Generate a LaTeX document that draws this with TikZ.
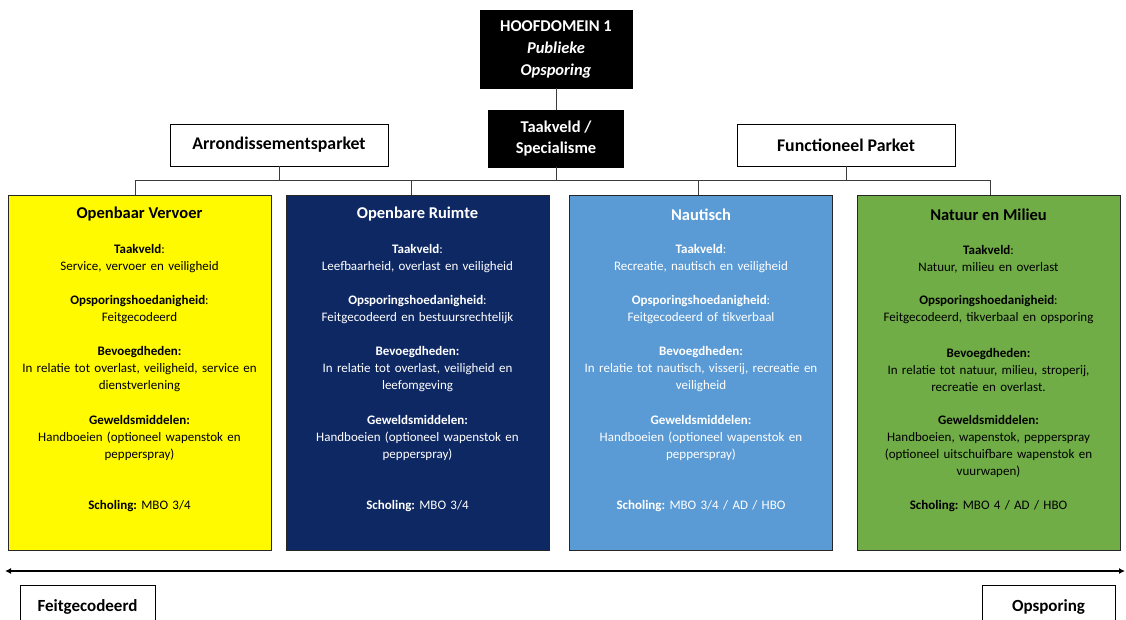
\documentclass[tikz,border=0pt]{standalone}
\usepackage{fontspec}
\setmainfont{Carlito}
\usetikzlibrary{arrows.meta}
\frenchspacing
\definecolor{cyellow}{RGB}{255,250,0}
\definecolor{cnavy}{RGB}{14,40,100}
\definecolor{cblue}{RGB}{91,155,213}
\definecolor{cgreen}{RGB}{112,173,71}
\definecolor{cline}{RGB}{60,60,60}
\tikzset{
  blackbox/.style={draw=black, fill=black, text=white, align=center, inner sep=0},
  whitebox/.style={draw=black, line width=0.9pt, fill=white, align=center, inner sep=0, font=\fontsize{17.8}{20}\selectfont\bfseries},
  colbox/.style={draw=black!85, line width=1pt, minimum width=263pt, minimum height=355pt, inner sep=0},
  coltitle/.style={font=\fontsize{16.5}{19}\selectfont\bfseries, inner sep=0},
  coltext/.style={text width=262pt, align=center, font=\fontsize{13}{17}\selectfont\frenchspacing, inner sep=0},
  conn/.style={draw=cline, line width=0.8pt},
}
\begin{document}
\begin{tikzpicture}[x=1pt,y=-1pt]
\useasboundingbox[fill=white] (0,0) rectangle (1126,619);

% top
\node[blackbox, minimum width=152pt, minimum height=78pt, font=\fontsize{16.5}{22}\selectfont\bfseries] (top) at (556,49)
  {HOOFDOMEIN 1\\ \itshape Publieke\\ \itshape Opsporing};
\node[blackbox, minimum width=135pt, minimum height=57pt, font=\fontsize{16.5}{21}\selectfont\bfseries] (tk) at (556,138.5)
  {Taakveld /\\ Specialisme};
\node[whitebox, minimum width=218pt, minimum height=42pt] (ar) at (279,145) {Arrondissementsparket};
\node[whitebox, minimum width=218pt, minimum height=42pt] (fp) at (846,145) {Functioneel Parket};

% columns
\node[colbox, fill=cyellow] (c1) at (139.5,372.5) {};
\node[colbox, fill=cnavy] (c2) at (417.5,372.5) {};
\node[colbox, fill=cblue] (c3) at (701,372.5) {};
\node[colbox, fill=cgreen] (c4) at (988.5,372.5) {};

% connectors
\coordinate (busL) at (135,180);
\coordinate (busR) at (990,180);
\coordinate (d2) at (411,180);
\coordinate (d3) at (698,180);
\draw[conn] (top) -- (tk);
\draw[conn] (busL) -- (busR);
\draw[conn] (tk.south) -- (tk.south |- busL);
\draw[conn] (ar.south) -- (ar.south |- busL);
\draw[conn] (fp.south) -- (fp.south |- busL);
\draw[conn] (busL) -- (busL |- c1.north);
\draw[conn] (d2) -- (d2 |- c2.north);
\draw[conn] (d3) -- (d3 |- c3.north);
\draw[conn] (busR) -- (busR |- c4.north);

% column 1
\begin{scope}[text=black]
\node[coltitle] (t1) at (139.5,214.5) {Openbaar Vervoer};
\node[coltext] (a1) at (139.5,259) {\textbf{Taakveld}:\\ Service, vervoer en veiligheid};
\node[coltext] (b1) at (139.5,309.5) {\textbf{Opsporingshoedanigheid}:\\ Feitgecodeerd};
\node[coltext] (e1) at (139.5,369.5) {\textbf{Bevoegdheden:}\\ In relatie tot overlast, veiligheid, service en\\ dienstverlening};
\node[coltext] (g1) at (139.5,438) {\textbf{Geweldsmiddelen:}\\ Handboeien (optioneel wapenstok en\\ pepperspray)};
\node[coltext] (s1) at (139.5,506.5) {\textbf{Scholing:} MBO 3/4};
\end{scope}

% column 2
\begin{scope}[text=white]
\node[coltitle] (t2) at (417.5,214.5) {Openbare Ruimte};
\node[coltext] (a2) at (417.5,259) {\textbf{Taakveld}:\\ Leefbaarheid, overlast en veiligheid};
\node[coltext] (b2) at (417.5,309.5) {\textbf{Opsporingshoedanigheid}:\\ Feitgecodeerd en bestuursrechtelijk};
\node[coltext] (e2) at (417.5,369.5) {\textbf{Bevoegdheden:}\\ In relatie tot overlast, veiligheid en\\ leefomgeving};
\node[coltext] (g2) at (417.5,438) {\textbf{Geweldsmiddelen:}\\ Handboeien (optioneel wapenstok en\\ pepperspray)};
\node[coltext] (s2) at (417.5,506.5) {\textbf{Scholing:} MBO 3/4};
\end{scope}

% column 3
\begin{scope}[text=white]
\node[coltitle] (t3) at (701,214.5) {Nautisch};
\node[coltext] (a3) at (701,259) {\textbf{Taakveld}:\\ Recreatie, nautisch en veiligheid};
\node[coltext] (b3) at (701,309.5) {\textbf{Opsporingshoedanigheid}:\\ Feitgecodeerd of tikverbaal};
\node[coltext] (e3) at (701,369.5) {\textbf{Bevoegdheden:}\\ In relatie tot nautisch, visserij, recreatie en\\ veiligheid};
\node[coltext] (g3) at (701,438) {\textbf{Geweldsmiddelen:}\\ Handboeien (optioneel wapenstok en\\ pepperspray)};
\node[coltext] (s3) at (701,506.5) {\textbf{Scholing:} MBO 3/4 / AD / HBO};
\end{scope}

% column 4
\begin{scope}[text=black]
\node[coltitle] (t4) at (988.5,214.5) {Natuur en Milieu};
\node[coltext] (a4) at (988.5,259) {\textbf{Taakveld}:\\ Natuur, milieu en overlast};
\node[coltext] (b4) at (988.5,309.5) {\textbf{Opsporingshoedanigheid}:\\ Feitgecodeerd, tikverbaal en opsporing};
\node[coltext] (e4) at (988.5,369.5) {\textbf{Bevoegdheden:}\\ In relatie tot natuur, milieu, stroperij,\\ recreatie en overlast.};
\node[coltext] (g4) at (988.5,446) {\textbf{Geweldsmiddelen:}\\ Handboeien, wapenstok, pepperspray\\ (optioneel uitschuifbare wapenstok en\\ vuurwapen)};
\node[coltext] (s4) at (988.5,506.5) {\textbf{Scholing:} MBO 4 / AD / HBO};
\end{scope}

% bottom scale
\coordinate (arL) at (5,571);
\coordinate (arR) at (1125,571);
\draw[line width=1.3pt, {Latex[length=6pt,width=6pt]}-{Latex[length=6pt,width=6pt]}] (arL) -- (arR);
\node[whitebox, minimum width=135pt, minimum height=44pt, font=\fontsize{17}{20}\selectfont\bfseries, anchor=north] (fg) at (87.5,585) {\raisebox{-4pt}{Feitgecodeerd}};
\node[whitebox, minimum width=133pt, minimum height=44pt, font=\fontsize{17}{20}\selectfont\bfseries, anchor=north] (op) at (1048.5,585) {\raisebox{-4pt}{Opsporing}};
\end{tikzpicture}
\end{document}
